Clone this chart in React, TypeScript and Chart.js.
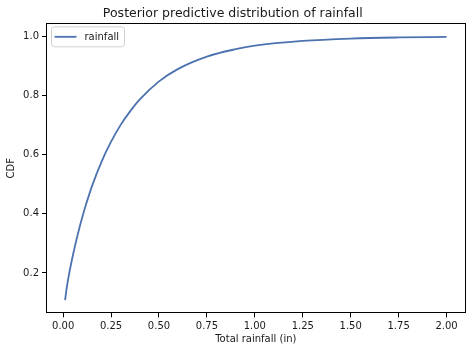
import React, { useEffect, useRef } from "react";
import { Chart, registerables } from "chart.js";

Chart.register(...registerables);

const rainfallX = [0.01, 0.02, 0.03, 0.045, 0.06, 0.08, 0.1, 0.12, 0.15, 0.2, 0.25, 0.3, 0.35, 0.4, 0.5, 0.6, 0.75, 0.9, 1.0, 1.25, 1.5, 1.75, 2.0];
const cdfValues = [0.108, 0.155, 0.193, 0.242, 0.286, 0.34, 0.389, 0.433, 0.493, 0.576, 0.644, 0.701, 0.7475, 0.787, 0.848, 0.8905, 0.932, 0.957, 0.969, 0.985, 0.993, 0.9967, 0.9984];
const xTicks = [0, 0.25, 0.5, 0.75, 1.0, 1.25, 1.5, 1.75, 2.0];
const yTicks = [0.2, 0.4, 0.6, 0.8, 1.0];
const seriesLabel = "rainfall";
const titleText = "Posterior predictive distribution of rainfall";
const xLabel = "Total rainfall (in)";
const yLabel = "CDF";

const FONT = "'DejaVu Sans', sans-serif";
const TEXT = "#1a1a1a";
const LINE = "#4c72b0";

const framePlugin = {
  id: "frame",
  afterDatasetsDraw(chart: any) {
    const { ctx, chartArea } = chart;
    ctx.save();
    ctx.strokeStyle = "#000";
    ctx.lineWidth = 1;
    ctx.strokeRect(
      Math.round(chartArea.left) + 0.5,
      Math.round(chartArea.top) + 0.5,
      Math.round(chartArea.right - chartArea.left) - 1,
      Math.round(chartArea.bottom - chartArea.top) - 1
    );
    ctx.restore();
  },
  afterDraw(chart: any) {
    const { ctx, chartArea } = chart;
    const ds = chart.data.datasets[0];
    const x0 = chartArea.left + 5.5;
    const y0 = chartArea.top + 3.5;
    const w = 73;
    const h = 20;
    ctx.save();
    ctx.beginPath();
    if (ctx.roundRect) ctx.roundRect(x0, y0, w, h, 3);
    else ctx.rect(x0, y0, w, h);
    ctx.fillStyle = "rgba(255,255,255,0.8)";
    ctx.fill();
    ctx.strokeStyle = "#d0d0d0";
    ctx.lineWidth = 1;
    ctx.stroke();
    ctx.beginPath();
    ctx.moveTo(x0 + 3, y0 + 10);
    ctx.lineTo(x0 + 25, y0 + 10);
    ctx.strokeStyle = ds.borderColor;
    ctx.lineWidth = 1.8;
    ctx.stroke();
    ctx.fillStyle = TEXT;
    ctx.font = `10px ${FONT}`;
    ctx.textBaseline = "middle";
    ctx.textAlign = "left";
    ctx.fillText(ds.label, x0 + 33, y0 + 10.5);
    ctx.restore();
  },
};

export default function App() {
  const canvasRef = useRef<HTMLCanvasElement>(null);

  useEffect(() => {
    if (!canvasRef.current) return;
    const chart = new Chart(canvasRef.current, {
      type: "line",
      data: {
        datasets: [
          {
            label: seriesLabel,
            data: rainfallX.map((x, i) => ({ x, y: cdfValues[i] })),
            borderColor: LINE,
            backgroundColor: LINE,
            borderWidth: 1.8,
            pointRadius: 0,
            cubicInterpolationMode: "monotone",
            fill: false,
          },
        ],
      },
      options: {
        responsive: false,
        animation: false,
        devicePixelRatio: 1,
        layout: { padding: { top: 0, right: 6.4, bottom: 0, left: 0 } },
        plugins: {
          legend: { display: false },
          tooltip: { enabled: false },
          title: {
            display: true,
            text: titleText,
            color: TEXT,
            font: { family: FONT, size: 12.5, weight: "normal" },
            padding: { top: 6, bottom: 2.3 },
          },
        },
        scales: {
          x: {
            type: "linear",
            min: -0.0895,
            max: 2.0995,
            afterBuildTicks: (scale: any) => {
              scale.ticks = xTicks.map((v) => ({ value: v }));
            },
            afterFit: (scale: any) => {
              scale.height = 38.7;
            },
            ticks: {
              color: TEXT,
              font: { family: FONT, size: 10 },
              padding: 3,
              maxRotation: 0,
              autoSkip: false,
              callback: (v: any) => Number(v).toFixed(2),
            },
            grid: {
              drawOnChartArea: false,
              drawTicks: true,
              tickLength: 4,
              color: "#000",
            },
            border: { display: false },
            title: {
              display: true,
              text: xLabel,
              color: TEXT,
              font: { family: FONT, size: 10 },
              padding: { top: 0, bottom: 6.5 },
            },
          },
          y: {
            type: "linear",
            min: 0.0634,
            max: 1.0446,
            afterBuildTicks: (scale: any) => {
              scale.ticks = yTicks.map((v) => ({ value: v }));
            },
            afterFit: (scale: any) => {
              scale.width = 46;
            },
            ticks: {
              color: TEXT,
              font: { family: FONT, size: 10 },
              padding: 3,
              autoSkip: false,
              callback: (v: any) => Number(v).toFixed(1),
            },
            grid: {
              drawOnChartArea: false,
              drawTicks: true,
              tickLength: 4,
              color: "#000",
            },
            border: { display: false },
            title: {
              display: true,
              text: yLabel,
              color: TEXT,
              font: { family: FONT, size: 10 },
              padding: { top: 5, bottom: 0 },
            },
          },
        },
      },
      plugins: [framePlugin],
    } as any);
    return () => chart.destroy();
  }, []);

  return (
    <div style={{ position: "fixed", left: 0, top: 0, width: 472, height: 352, background: "#fff" }}>
      <canvas ref={canvasRef} width={472} height={352} />
    </div>
  );
}
